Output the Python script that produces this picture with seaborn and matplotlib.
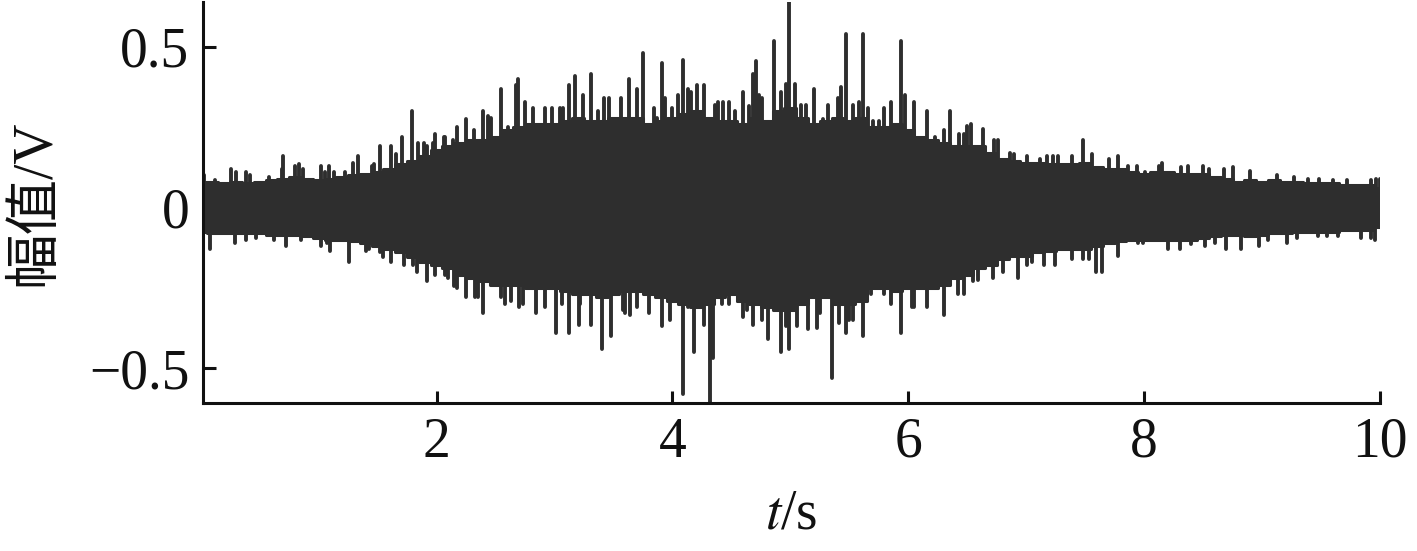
"""
Vibration signal amplitude over time (幅值/V vs t/s).
Values read off the reference picture: a dense body (upper and lower
edge every 0.1 s) plus the single spikes that stick out of it.
"""

import numpy as np
import matplotlib.pyplot as plt
import seaborn as sns

# time grid of the body readings, 0.0 .. 10.0 s
t_grid = np.round(np.arange(0, 101) * 0.1, 2)

# upper edge of the dense body
body_hi = [0.08, 0.08, 0.075, 0.08, 0.075, 0.08, 0.085, 0.09, 0.095, 0.09,
           0.085, 0.09, 0.095, 0.10, 0.105, 0.11, 0.12, 0.135, 0.145, 0.16,
           0.18, 0.19, 0.20, 0.21, 0.21, 0.22, 0.24, 0.25, 0.26, 0.26,
           0.26, 0.27, 0.28, 0.27, 0.27, 0.28, 0.28, 0.28, 0.26, 0.27,
           0.28, 0.29, 0.30, 0.28, 0.27, 0.27, 0.26, 0.28, 0.27, 0.30,
           0.31, 0.28, 0.26, 0.27, 0.28, 0.27, 0.28, 0.25, 0.25, 0.26,
           0.24, 0.22, 0.21, 0.20, 0.19, 0.19, 0.19, 0.17, 0.15, 0.145,
           0.14, 0.14, 0.135, 0.135, 0.135, 0.14, 0.125, 0.12, 0.12, 0.11,
           0.105, 0.11, 0.11, 0.105, 0.105, 0.105, 0.095, 0.09, 0.08, 0.085,
           0.08, 0.085, 0.08, 0.08, 0.075, 0.075, 0.075, 0.07, 0.07, 0.07,
           0.06]

# lower edge of the dense body
body_lo = [-0.075, -0.08, -0.08, -0.08, -0.08, -0.08, -0.085, -0.085, -0.085, -0.09,
           -0.095, -0.10, -0.10, -0.105, -0.11, -0.12, -0.13, -0.14, -0.155, -0.17,
           -0.18, -0.19, -0.21, -0.22, -0.23, -0.24, -0.24, -0.24, -0.25, -0.25,
           -0.25, -0.26, -0.27, -0.27, -0.28, -0.27, -0.26, -0.26, -0.27, -0.28,
           -0.29, -0.30, -0.31, -0.30, -0.28, -0.27, -0.29, -0.30, -0.31, -0.32,
           -0.32, -0.30, -0.28, -0.28, -0.30, -0.30, -0.29, -0.25, -0.25, -0.26,
           -0.25, -0.25, -0.25, -0.24, -0.22, -0.21, -0.19, -0.18, -0.16, -0.15,
           -0.15, -0.14, -0.135, -0.13, -0.13, -0.13, -0.12, -0.11, -0.105, -0.10,
           -0.10, -0.10, -0.10, -0.10, -0.10, -0.095, -0.09, -0.085, -0.085, -0.09,
           -0.085, -0.08, -0.08, -0.075, -0.075, -0.075, -0.075, -0.07, -0.07, -0.07,
           -0.06]

# big positive spikes (time, value)
up_t = [0.03, 0.12, 0.30, 0.42, 0.58, 0.70, 0.80, 0.87, 1.05, 1.13,
        1.22, 1.33, 1.45, 1.52, 1.61, 1.66, 1.71, 1.79, 1.84, 1.92,
        1.99, 2.06, 2.14, 2.25, 2.32, 2.39, 2.44, 2.55, 2.67, 2.69,
        2.75, 2.82, 2.92, 3.05, 3.12, 3.17, 3.24, 3.31, 3.37, 3.46,
        3.56, 3.63, 3.70, 3.75, 3.84, 3.91, 3.94, 4.05, 4.09, 4.16,
        4.21, 4.27, 4.39, 4.48, 4.53, 4.60, 4.68, 4.71, 4.73, 4.86,
        4.92, 4.96, 4.99, 5.04, 5.09, 5.20, 5.32, 5.40, 5.43, 5.47,
        5.58, 5.62, 5.66, 5.79, 5.85, 5.94, 5.97, 6.05, 6.16, 6.30,
        6.35, 6.47, 6.53, 6.63, 6.76, 6.86, 7.01, 7.18, 7.27, 7.39,
        7.48, 7.56, 7.70, 7.78, 7.94, 8.15, 8.37, 8.50, 8.68, 8.90,
        9.13, 9.39, 9.60, 9.92, 9.97]
up_v = [0.10, 0.085, 0.11, 0.10, 0.095, 0.16, 0.13, 0.12, 0.11, 0.11,
        0.11, 0.16, 0.13, 0.19, 0.19, 0.165, 0.22, 0.30, 0.20, 0.19,
        0.23, 0.22, 0.21, 0.275, 0.24, 0.30, 0.285, 0.37, 0.38, 0.40,
        0.33, 0.31, 0.31, 0.31, 0.38, 0.41, 0.35, 0.415, 0.30, 0.34,
        0.34, 0.40, 0.37, 0.48, 0.31, 0.45, 0.34, 0.35, 0.46, 0.36,
        0.38, 0.38, 0.33, 0.33, 0.30, 0.36, 0.415, 0.455, 0.35, 0.52,
        0.36, 0.385, 0.64, 0.385, 0.32, 0.37, 0.32, 0.34, 0.375, 0.54,
        0.33, 0.54, 0.31, 0.31, 0.33, 0.52, 0.35, 0.33, 0.30, 0.24,
        0.30, 0.23, 0.26, 0.245, 0.21, 0.17, 0.16, 0.16, 0.16, 0.16,
        0.21, 0.165, 0.15, 0.16, 0.13, 0.14, 0.13, 0.13, 0.12, 0.115,
        0.10, 0.09, 0.085, 0.085, 0.09]

# small positive spikes along the upper edge
up2_t = [0.26, 0.38, 0.69, 0.83, 1.02, 1.09, 1.29, 1.47, 1.89, 1.97,
         2.07, 2.17, 2.46, 2.61, 2.98, 3.07, 3.42, 3.87, 4.00, 4.13,
         4.36, 4.43, 4.65, 4.76, 5.13, 5.28, 5.53, 5.70, 5.75, 6.23,
         6.43, 6.50, 6.73, 6.90, 7.12, 7.23, 7.86, 8.01, 8.13, 8.31,
         8.55, 8.75, 9.27, 9.48, 9.72, 10.0]
up2_v = [0.12, 0.11, 0.12, 0.135, 0.13, 0.13, 0.14, 0.135, 0.20, 0.20,
         0.22, 0.25, 0.28, 0.25, 0.31, 0.31, 0.34, 0.28, 0.31, 0.37,
         0.32, 0.33, 0.315, 0.34, 0.32, 0.275, 0.32, 0.27, 0.27, 0.22,
         0.23, 0.255, 0.21, 0.165, 0.15, 0.16, 0.13, 0.11, 0.13, 0.125,
         0.12, 0.125, 0.095, 0.09, 0.085, 0.09]

# big negative spikes (time, value)
down_t = [0.08, 0.38, 0.62, 0.85, 1.07, 1.26, 1.43, 1.52, 1.61, 1.72,
          1.83, 1.92, 1.99, 2.10, 2.17, 2.25, 2.33, 2.39, 2.55, 2.63,
          2.70, 2.84, 2.92, 3.01, 3.12, 3.22, 3.31, 3.40, 3.48, 3.60,
          3.70, 3.80, 3.91, 3.98, 4.09, 4.18, 4.27, 4.32, 4.34, 4.48,
          4.60, 4.68, 4.81, 4.92, 4.99, 5.15, 5.25, 5.35, 5.41, 5.47,
          5.53, 5.62, 5.85, 5.94, 6.05, 6.16, 6.30, 6.42, 6.47, 6.55,
          6.72, 6.93, 7.05, 7.24, 7.39, 7.48, 7.59, 7.78, 8.20, 8.30,
          8.52, 8.69, 8.82, 8.97, 9.21, 9.55, 9.92]
down_v = [-0.13, -0.10, -0.10, -0.10, -0.11, -0.17, -0.13, -0.14, -0.17, -0.18,
          -0.20, -0.23, -0.21, -0.22, -0.25, -0.28, -0.28, -0.33, -0.28, -0.29,
          -0.31, -0.33, -0.31, -0.39, -0.39, -0.30, -0.365, -0.44, -0.40, -0.33,
          -0.31, -0.33, -0.37, -0.35, -0.58, -0.45, -0.365, -0.62, -0.47, -0.30,
          -0.34, -0.365, -0.41, -0.45, -0.44, -0.38, -0.33, -0.53, -0.36, -0.39,
          -0.35, -0.40, -0.30, -0.39, -0.31, -0.31, -0.335, -0.27, -0.27, -0.23,
          -0.22, -0.22, -0.17, -0.18, -0.16, -0.16, -0.20, -0.15, -0.13, -0.13,
          -0.12, -0.13, -0.13, -0.12, -0.11, -0.09, -0.095]

# small negative spikes along the lower edge
down2_t = [0.29, 0.47, 0.72, 1.02, 1.10, 1.40, 1.55, 1.80, 2.07, 2.15,
           2.35, 2.58, 2.73, 3.06, 3.21, 3.58, 3.64, 4.13, 4.42, 4.56,
           4.63, 4.76, 4.96, 5.06, 5.23, 5.50, 5.68, 5.79, 6.03, 6.59,
           6.80, 7.01, 7.15, 7.53, 7.64, 7.95, 7.99, 8.40, 8.60, 9.05,
           9.30, 9.47, 9.64, 9.84, 9.96]
down2_v = [-0.11, -0.095, -0.12, -0.12, -0.135, -0.135, -0.155, -0.18, -0.21, -0.245,
           -0.28, -0.30, -0.30, -0.30, -0.365, -0.32, -0.335, -0.31, -0.30, -0.29,
           -0.32, -0.35, -0.37, -0.37, -0.375, -0.35, -0.27, -0.27, -0.31, -0.225,
           -0.20, -0.18, -0.18, -0.16, -0.20, -0.11, -0.11, -0.115, -0.11, -0.10,
           -0.095, -0.09, -0.09, -0.095, -0.10]

y_ticks = [-0.5, 0, 0.5]
y_tick_labels = ['\u22120.5', '0', '0.5']
x_ticks = [2, 4, 6, 8, 10]

LINE = '#2e2e2e'
AXIS = '#111111'

sns.set_style('ticks')
plt.rcParams['font.family'] = ['Liberation Serif', 'Noto Sans CJK SC']
plt.rcParams['mathtext.fontset'] = 'stix'

fig = plt.figure(figsize=(14.17, 5.51), dpi=100)
ax = fig.add_axes([0.1433, 0.2686, 0.8306, 0.7278])

# dense body of the signal
ax.fill_between(t_grid, body_lo, body_hi, step='mid', color=LINE,
                linewidth=0, zorder=2)
sns.lineplot(x=t_grid, y=body_hi, ax=ax, color=LINE, linewidth=2.2,
             drawstyle='steps-mid', zorder=2)
sns.lineplot(x=t_grid, y=body_lo, ax=ax, color=LINE, linewidth=2.2,
             drawstyle='steps-mid', zorder=2)

# spikes sticking out of the body
spike_sets = [(up_t, up_v), (up2_t, up2_v), (down_t, down_v), (down2_t, down2_v)]
for st, sv in spike_sets:
    coll = ax.vlines(st, 0, sv, color=LINE, linewidth=2.8, zorder=2)
    coll.set_capstyle('round')

ax.set_xlim(0.02, 10.0)
ax.set_ylim(-0.609, 0.64)
ax.set_xticks(x_ticks)
ax.set_xticklabels([str(v) for v in x_ticks])
ax.set_yticks(y_ticks)
ax.set_yticklabels(y_tick_labels)

sns.despine(ax=ax)
for side in ['left', 'bottom']:
    ax.spines[side].set_linewidth(2.2)
    ax.spines[side].set_color(AXIS)
ax.tick_params(direction='in', length=9, width=2.2, color=AXIS,
               labelsize=40, pad=10, labelcolor=AXIS)

ax.set_xlabel('$\\it{t}$/s', fontsize=40, color=AXIS, labelpad=14)
ax.set_ylabel('幅值/V', fontsize=40, color=AXIS, labelpad=20)

plt.savefig('out.png', dpi=100)
